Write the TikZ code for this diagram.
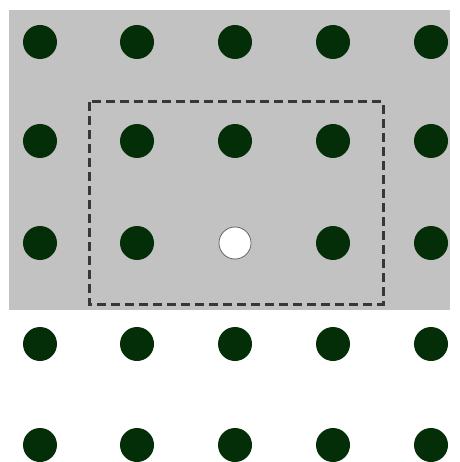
\documentclass[tikz,border=0pt]{standalone}
\definecolor{dotgreen}{RGB}{4,46,8}
\definecolor{panelgray}{RGB}{194,194,194}
\definecolor{dashgray}{RGB}{55,55,55}
\begin{document}
\begin{tikzpicture}[x=1pt,y=-1pt,
  dot/.style={circle,fill=dotgreen,draw=none,minimum size=34pt,inner sep=0pt},
  hole/.style={circle,fill=white,draw=gray!80!black,line width=0.8pt,minimum size=32pt,inner sep=0pt},
  window/.style={draw=dashgray,line width=3pt,dash pattern=on 9pt off 5pt}]
\useasboundingbox (0,0) rectangle (459,462);
\fill[panelgray] (9,10) rectangle (450,310);
\foreach \c/\x in {1/40,2/137,3/235,4/333,5/431}{
  \foreach \r/\y in {1/42,2/141,3/243,4/344,5/445}{
    \ifnum\c=3 \ifnum\r=3 \else \node[dot] (d\c\r) at (\x,\y) {};\fi
    \else \node[dot] (d\c\r) at (\x,\y) {};\fi
  }
}
\node[hole] (d33) at (235,243) {};
\draw[window] (89,102) rectangle (383,304);
\end{tikzpicture}
\end{document}
